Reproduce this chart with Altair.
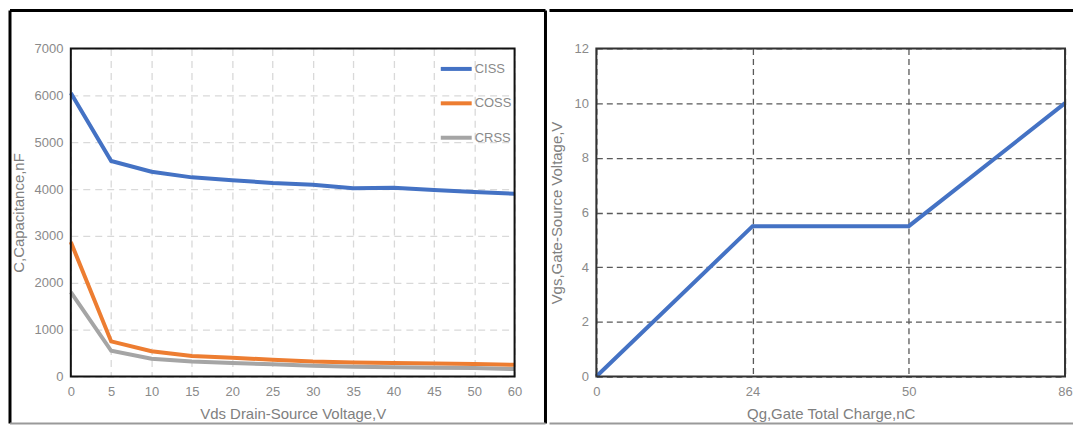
import altair as alt
import pandas as pd

# ---- data: capacitance vs Vds (category axis as in the original) ----
vds = [0, 5, 10, 15, 20, 25, 30, 35, 40, 45, 50, 60]
ciss = [6050, 4600, 4370, 4250, 4190, 4130, 4090, 4020, 4030, 3980, 3940, 3900]
coss = [2870, 750, 540, 440, 400, 360, 320, 300, 290, 280, 270, 250]
crss = [1800, 550, 380, 320, 290, 260, 230, 210, 200, 190, 180, 160]
series_names = ["CISS", "COSS", "CRSS"]
series_colors = ["#4472C4", "#ED7D31", "#A5A5A5"]

# ---- data: gate charge ----
qg_labels = ["0", "24", "50", "86"]
vgs = [0, 5.5, 5.5, 10]

FONT = "Liberation Sans, Arial, sans-serif"
LABEL_C = "#8a8a8a"
TITLE_C = "#808080"

vds_labels = [str(v) for v in vds]
rows = []
for name, vals in zip(series_names, [ciss, coss, crss]):
    for v, c in zip(vds_labels, vals):
        rows.append({"Vds": v, "C": c, "series": name})
df_left = pd.DataFrame(rows)
df_right = pd.DataFrame({"Qg": qg_labels, "Vgs": vgs})
one = pd.DataFrame({"k": [0]})

LW, LH = 445, 329
RW, RH = 470, 329
BOT = 376

left_lines = alt.Chart(df_left).mark_line(strokeWidth=4).encode(
    x=alt.X("Vds:O", sort=vds_labels, scale=alt.Scale(type="point", padding=0),
            axis=alt.Axis(title="Vds Drain-Source Voltage,V", labelAngle=0,
                          grid=True, gridColor="#d9d9d9", gridDash=[7, 5], gridWidth=1.3,
                          ticks=False, domain=False, labelPadding=9, titlePadding=8)),
    y=alt.Y("C:Q", scale=alt.Scale(domain=[0, 7000], nice=False),
            axis=alt.Axis(values=list(range(0, 7001, 1000)), format="d",
                          title="C,Capacitance,nF",
                          grid=True, gridColor="#d9d9d9", gridDash=[7, 5], gridWidth=1.3,
                          ticks=False, domain=False, labelPadding=8, titlePadding=8)),
    color=alt.Color("series:N", scale=alt.Scale(domain=series_names, range=series_colors),
                    legend=alt.Legend(title=None, orient="none", legendX=369, legendY=3,
                                      symbolType="stroke", symbolSize=961, symbolStrokeWidth=4,
                                      rowPadding=8.5, labelOffset=1, labelFont=FONT,
                                      labelFontSize=13, labelColor=LABEL_C)),
)

def rule(x, y, x2=None, y2=None, color="black", w=2):
    enc = {"x": alt.value(x), "y": alt.value(y)}
    if x2 is not None:
        enc["x2"] = alt.value(x2)
    if y2 is not None:
        enc["y2"] = alt.value(y2)
    return alt.Chart(one).mark_rule(color=color, strokeWidth=w).encode(**enc)

def frame(w, h, color):
    return alt.Chart(one).mark_rect(fillOpacity=0, stroke=color, strokeWidth=2).encode(
        x=alt.value(0), x2=alt.value(w), y=alt.value(0), y2=alt.value(h))

left = alt.layer(
    left_lines,
    frame(LW, LH, "#111111"),
    rule(-61, -38, x2=476, w=3),
    rule(-61, -38, y2=BOT, w=3),
    rule(476, -38, y2=BOT, w=3),
    rule(-61, BOT, x2=476, color="#9a9a9a", w=2),
).properties(width=LW, height=LH)

right_line = alt.Chart(df_right).mark_line(strokeWidth=4, color="#4472C4").encode(
    x=alt.X("Qg:O", sort=qg_labels, scale=alt.Scale(type="point", padding=0),
            axis=alt.Axis(title="Qg,Gate Total Charge,nC", labelAngle=0,
                          grid=True, gridColor="#595959", gridDash=[6, 4], gridWidth=1.3,
                          ticks=False, domain=False, labelPadding=9, titlePadding=8)),
    y=alt.Y("Vgs:Q", scale=alt.Scale(domain=[0, 12], nice=False),
            axis=alt.Axis(values=list(range(0, 13, 2)), title="Vgs,Gate-Source Voltage,V",
                          grid=True, gridColor="#595959", gridDash=[6, 4], gridWidth=1.3,
                          ticks=False, domain=False, labelPadding=8, titlePadding=9)),
)

right = alt.layer(
    right_line,
    frame(RW, RH, "#333333"),
    rule(-47, -38, x2=478, w=3),
    rule(-47, BOT, x2=478, color="#9a9a9a", w=2),
).properties(width=RW, height=RH)

chart = alt.hconcat(left, right, spacing=0).properties(padding=0).configure(
    padding=0
).configure_view(
    strokeWidth=0
).configure_axis(
    labelFont=FONT, labelFontSize=13, labelColor=LABEL_C,
    titleFont=FONT, titleFontSize=15, titleColor=TITLE_C, titleFontWeight="normal",
).configure_legend(labelFont=FONT)

chart.save("out.html", embed_options={"renderer": "svg", "actions": False})
